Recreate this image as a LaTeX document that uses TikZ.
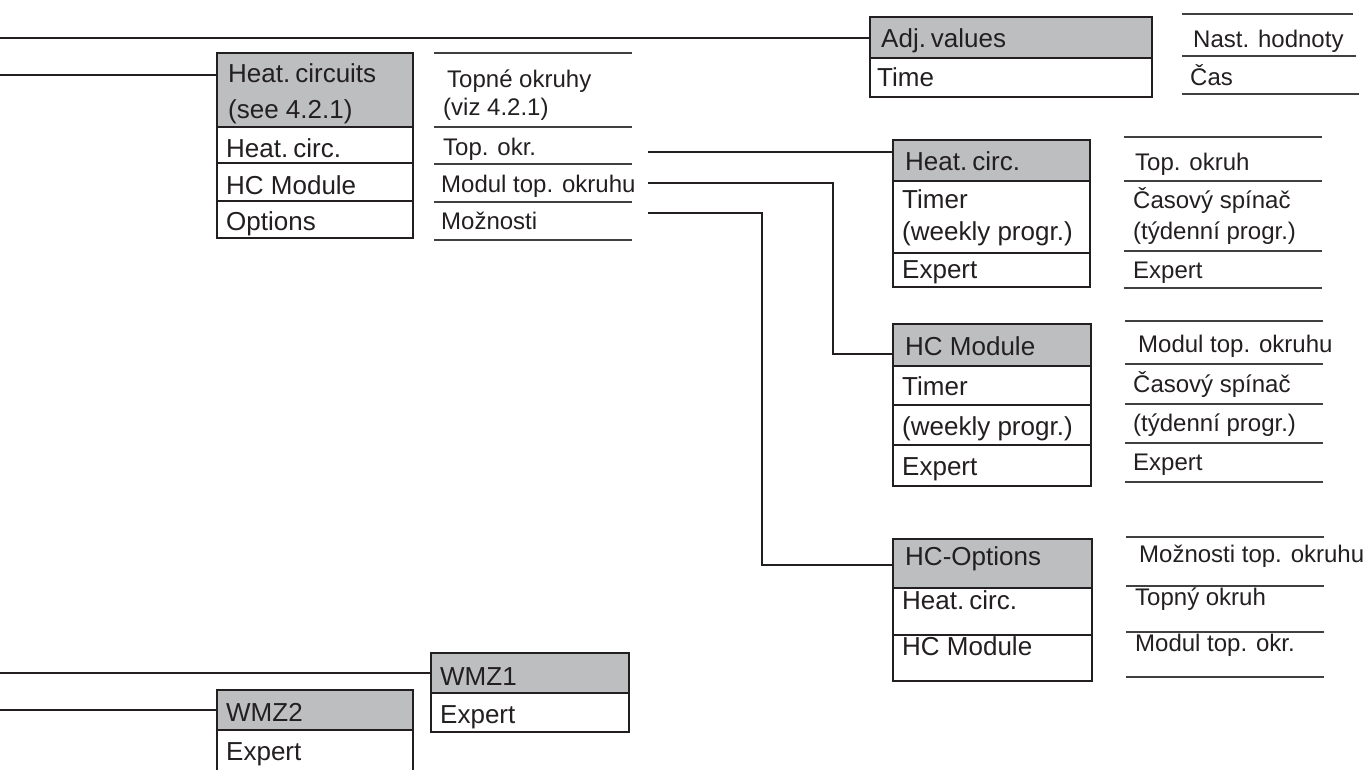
\documentclass[tikz,border=0pt]{standalone}
\usepackage{fontspec}
\setmainfont{Liberation Sans}
% tighter space after an abbreviation inside the menu boxes
\newcommand{\abbrsp}{\hspace{5pt}}
\begin{document}
\begin{tikzpicture}[x=1pt,y=-1pt,
  ink/.style={draw=lineblack, line width=2.2pt},
  hdr/.style={ink, fill=hdrgray, anchor=north west, inner sep=0pt, outer sep=0pt, minimum height=#1},
  row/.style={ink, fill=white, anchor=north west, inner sep=0pt, outer sep=0pt, minimum height=#1},
  conn/.style={draw=lineblack, line width=2.2pt},
  rule/.style={draw=black!75, line width=1.2pt},
  boxtxt/.style={anchor=base west, inner sep=0pt, font=\fontsize{26}{36}\selectfont, text=textblack},
  coltxt/.style={anchor=base west, inner sep=0pt, font=\fontsize{24}{28}\selectfont, text=textblack}
]
\definecolor{lineblack}{RGB}{35,31,32}
\definecolor{textblack}{RGB}{35,31,32}
\definecolor{hdrgray}{RGB}{188,190,192}
\useasboundingbox (0,0) rectangle (1366,769);
\clip (0,0) rectangle (1366,769);

% ---------- Adj. values ----------
\node[hdr=41, minimum width=282] (adj) at (870,17) {};
\node[row=39, minimum width=282] (adj1) at (adj.south west) {};
\node[boxtxt] (tadj) at (881,47) {Adj.\abbrsp values};
\node[boxtxt] (tadj1) at (877,86) {Time};
\draw[rule] (1182,14) -- (1353,14);
\draw[rule] (1182,56) -- (1356,56);
\draw[rule] (1182,94) -- (1359,94);
\node[coltxt] (cadj) at (1193,47) {Nast. hodnoty};
\node[coltxt] (cadj1) at (1190,85) {Čas};

% ---------- Heat. circuits ----------
\node[hdr=74, minimum width=196] (hcs) at (217,53) {};
\node[row=36, minimum width=196] (hcs1) at (hcs.south west) {};
\node[row=38, minimum width=196] (hcs2) at (hcs1.south west) {};
\node[row=37, minimum width=196] (hcs3) at (hcs2.south west) {};
\node[boxtxt] (thcs) at (228,82) {Heat.\abbrsp circuits};
\node[boxtxt] (thcsb) at (228,118) {(see 4.2.1)};
\node[boxtxt] (thcs1) at (226,157) {Heat.\abbrsp circ.};
\node[boxtxt] (thcs2) at (226,194) {HC Module};
\node[boxtxt] (thcs3) at (226,230) {Options};
\draw[rule] (434,53) -- (632,53);
\draw[rule] (434,127) -- (632,127);
\draw[rule] (434,164) -- (632,164);
\draw[rule] (434,202) -- (632,202);
\draw[rule] (434,240) -- (632,240);
\node[coltxt] (chcs) at (447,87) {Topné okruhy};
\node[coltxt] (chcsb) at (443,115) {(viz 4.2.1)};
\node[coltxt] (chcs1) at (443,155) {Top. okr.};
\node[coltxt] (chcs2) at (441,192) {Modul top. okruhu};
\node[coltxt] (chcs3) at (441,229) {Možnosti};

% ---------- Heat. circ. ----------
\node[hdr=41, minimum width=197] (hc) at (893,140) {};
\node[row=72, minimum width=197] (hc1) at (hc.south west) {};
\node[row=34, minimum width=197] (hc2) at (hc1.south west) {};
\node[boxtxt] (thc) at (905,170) {Heat.\abbrsp circ.};
\node[boxtxt] (thc1) at (902,208) {Timer};
\node[boxtxt] (thc1b) at (902,240) {(weekly progr.)};
\node[boxtxt] (thc2) at (902,278) {Expert};
\draw[rule] (1124,137) -- (1322,137);
\draw[rule] (1124,181) -- (1322,181);
\draw[rule] (1124,251) -- (1322,251);
\draw[rule] (1124,288) -- (1322,288);
\node[coltxt] (chc) at (1135,170) {Top. okruh};
\node[coltxt] (chc1) at (1133,208) {Časový spínač};
\node[coltxt] (chc1b) at (1133,239) {(týdenní progr.)};
\node[coltxt] (chc2) at (1133,278) {Expert};

% ---------- HC Module ----------
\node[hdr=42, minimum width=198] (hm) at (893,324) {};
\node[row=39, minimum width=198] (hm1) at (hm.south west) {};
\node[row=40, minimum width=198] (hm2) at (hm1.south west) {};
\node[row=41, minimum width=198] (hm3) at (hm2.south west) {};
\node[boxtxt] (thm) at (905,355) {HC Module};
\node[boxtxt] (thm1) at (902,395) {Timer};
\node[boxtxt] (thm2) at (902,435) {(weekly progr.)};
\node[boxtxt] (thm3) at (902,475) {Expert};
\draw[rule] (1125,321) -- (1323,321);
\draw[rule] (1125,364) -- (1323,364);
\draw[rule] (1125,404) -- (1323,404);
\draw[rule] (1125,443) -- (1323,443);
\draw[rule] (1125,482) -- (1323,482);
\node[coltxt] (chm) at (1138,352) {Modul top. okruhu};
\node[coltxt] (chm1) at (1133,392) {Časový spínač};
\node[coltxt] (chm2) at (1133,431) {(týdenní progr.)};
\node[coltxt] (chm3) at (1133,470) {Expert};

% ---------- HC-Options ----------
\node[hdr=49, minimum width=199] (ho) at (893,539) {};
\node[row=47, minimum width=199] (ho1) at (ho.south west) {};
\node[row=46, minimum width=199] (ho2) at (ho1.south west) {};
\node[boxtxt] (tho) at (905,565) {HC-Options};
\node[boxtxt] (tho1) at (902,609) {Heat.\abbrsp circ.};
\node[boxtxt] (tho2) at (902,655) {HC Module};
\draw[rule] (1126,537) -- (1324,537);
\draw[rule] (1126,586) -- (1324,586);
\draw[rule] (1126,632) -- (1324,632);
\draw[rule] (1126,677) -- (1324,677);
\node[coltxt] (cho) at (1139,562) {Možnosti top. okruhu};
\node[coltxt] (cho1) at (1135,605) {Topný okruh};
\node[coltxt] (cho2) at (1135,651) {Modul top. okr.};

% ---------- WMZ1 / WMZ2 ----------
\node[hdr=40, minimum width=198] (w1) at (431,653) {};
\node[row=39, minimum width=198] (w1a) at (w1.south west) {};
\node[boxtxt] (tw1) at (440,685) {WMZ1};
\node[boxtxt] (tw1a) at (440,723) {Expert};
\node[hdr=40, minimum width=196] (w2) at (217,690) {};
\node[row=60, minimum width=196] (w2a) at (w2.south west) {};
\node[boxtxt] (tw2) at (226,721) {WMZ2};
\node[boxtxt] (tw2a) at (226,760) {Expert};

% ---------- connectors ----------
\coordinate (e1) at (0,38);
\coordinate (e2) at (0,75);
\coordinate (e3) at (0,673);
\coordinate (e4) at (0,710);
\coordinate (s1) at (648,152);
\coordinate (s2) at (648,183);
\coordinate (s3) at (648,213);
\coordinate (k2) at (833,183);
\coordinate (k3) at (762,213);
\draw[conn] (e1) -- (e1 -| adj.west);
\draw[conn] (e2) -- (e2 -| hcs.west);
\draw[conn] (e3) -- (e3 -| w1.west);
\draw[conn] (e4) -- (e4 -| w2.west);
\draw[conn] (s1) -- (s1 -| hc.west);
\draw[conn] (s2) -- (k2) -- (k2 |- 0,354) -- (hm.west |- 0,354);
\draw[conn] (s3) -- (k3) -- (k3 |- 0,565) -- (ho.west |- 0,565);
\end{tikzpicture}
\end{document}
